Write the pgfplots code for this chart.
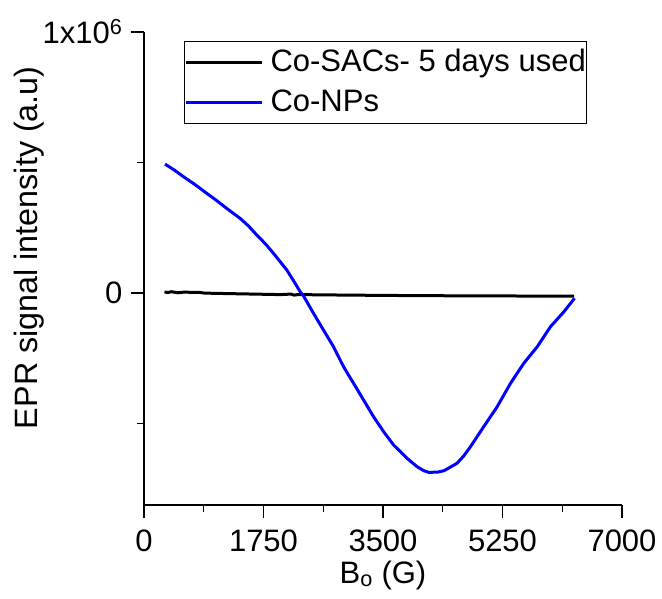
\documentclass[border=0pt]{standalone}
\usepackage{fontspec}
\setmainfont{Liberation Sans}
\usepackage{pgfplots}
\pgfplotsset{compat=1.18}
\definecolor{pureblue}{RGB}{0,0,255}
\begin{document}
\begin{tikzpicture}
\useasboundingbox (-144bp,-94bp) rectangle (518bp,505bp);
\begin{axis}[
  at={(0,0)}, anchor=south west,
  scale only axis, width=478bp, height=473bp,
  font=\fontsize{31bp}{37bp}\selectfont,
  xmin=0, xmax=7000, ymin=-812000, ymax=1000000,
  axis lines*=left,
  axis line style={line width=1.3bp},
  every tick/.style={black, line width=1.3bp},
  tick align=outside,
  major tick length=13bp, minor tick length=7bp,
  xtick={0,1750,3500,5250,7000},
  xticklabels={0,1750,3500,5250,7000},
  minor xtick={875,2625,4375,6125},
  ytick={0,1000000},
  yticklabels={0,1x10\textsuperscript{6}},
  minor ytick={-500000,500000},
  scaled y ticks=false, scaled x ticks=false,
  ticklabel style={font=\fontsize{31bp}{37bp}\selectfont},
  xticklabel style={yshift=-8bp},
  yticklabel style={xshift=-5bp},
  xlabel={B\textsubscript{o} (G)},
  xlabel style={at={(axis description cs:0.5,0)}, anchor=base, yshift=-78bp},
  ylabel={EPR signal intensity (a.u)},
  ylabel style={at={(axis description cs:-0.2406,0.544)}, anchor=center,
    font=\fontsize{32.3bp}{38bp}\selectfont},
  legend style={at={(axis description cs:0.0837,0.981)}, anchor=north west,
    draw=black, line width=1bp, inner xsep=0pt, inner ysep=1bp,
    font=\fontsize{31bp}{37bp}\selectfont,
    nodes={inner xsep=1bp, inner ysep=5bp, text height=24bp, text depth=6bp},
    row sep=0pt, column sep=6bp},
  legend cell align=left,
  legend image code/.code={\draw[#1, line width=3bp] (0bp,0bp) -- (76bp,0bp);},
]
\addplot[black, line width=3bp] coordinates {
(300,4000) (350,2000) (400,5000) (500,1000) (600,4000) (700,2000) (800,3000)
(880,0) (1000,-1000) (2000,-6000) (2150,-4000) (2200,-8000) (2250,-6000)
(3000,-8000) (4000,-10000) (5000,-11000) (6300,-12000)
};
\addlegendentry{Co-SACs- 5 days used\hspace{8bp}}
\addplot[pureblue, line width=3bp] coordinates {
(308,494000) (450,470000) (576,446000) (750,415000) (919,382000) (1060,355000)
(1212,324000) (1408,286000) (1530,257000) (1652,222000) (1780,188000)
(1896,152000) (2000,118000) (2092,88000) (2214,37000) (2287,5000)
(2336,-11000) (2483,-78000) (2629,-142000) (2776,-206000) (2922,-282000)
(3069,-346000) (3216,-410000) (3362,-474000) (3509,-531000) (3655,-582000)
(3851,-633000) (3998,-665000) (4100,-681000) (4169,-687000) (4300,-686000)
(4389,-681000) (4480,-668000) (4584,-652000) (4680,-625000) (4780,-589000)
(4975,-512000) (5171,-436000) (5367,-346000) (5562,-269000) (5758,-206000)
(5953,-129000) (6148,-72000) (6305,-20000)
};
\addlegendentry{Co-NPs}
\end{axis}
\end{tikzpicture}
\end{document}
